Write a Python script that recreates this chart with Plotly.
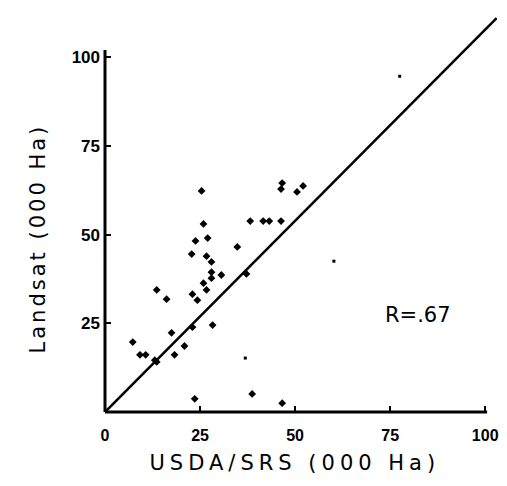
import plotly.graph_objects as go

# Survey estimates (USDA/SRS) vs Landsat estimates, thousands of hectares
usda_srs = [7.3, 9.2, 10.7, 13.6, 16.2, 13.6, 17.5, 18.3, 20.9, 23.0, 28.3, 23.6,
            23.0, 24.3, 26.7, 25.9, 28.0, 28.0, 30.6, 37.2, 28.0, 26.7, 22.8, 23.8,
            27.0, 34.8, 25.9, 25.4, 38.2, 41.6, 43.2, 46.3, 46.6, 46.3, 50.5, 52.1,
            38.7, 46.6, 13.1]
landsat = [19.7, 16.1, 16.1, 34.4, 31.8, 14.1, 22.3, 16.1, 18.6, 23.9, 24.5, 3.7,
           33.2, 31.5, 34.4, 36.3, 39.4, 37.7, 38.6, 38.9, 42.3, 43.9, 44.5, 48.2,
           49.0, 46.5, 53.0, 62.3, 53.8, 53.8, 53.8, 53.8, 64.5, 62.8, 62.0, 63.7,
           5.1, 2.5, 14.6]

# faint counties, drawn with a smaller dot
usda_srs_faint = [36.9, 60.2, 77.5]
landsat_faint = [15.2, 42.5, 94.6]

# fitted line
fit_x = [0, 103]
fit_y = [0, 111]

tick_vals_x = [0, 25, 50, 75, 100]
tick_text_x = ["0", "25", "50", "75", "100"]
tick_vals_y = [25, 50, 75, 100]
tick_text_y = ["25", "50", "75", "100"]

r_label = "R=.67"

fig = go.Figure()
fig.add_trace(go.Scatter(x=fit_x, y=fit_y, mode="lines",
                         line=dict(color="black", width=2.6), hoverinfo="skip"))
fig.add_trace(go.Scatter(x=usda_srs, y=landsat, mode="markers",
                         marker=dict(color="black", size=6, symbol="diamond")))
fig.add_trace(go.Scatter(x=usda_srs_faint, y=landsat_faint, mode="markers",
                         marker=dict(color="black", size=3, symbol="square")))

font_t = "DejaVu Sans, Arial, sans-serif"
font_k = "Liberation Sans, Arial, sans-serif"

fig.update_layout(
    width=507, height=486,
    margin=dict(l=105, r=8, t=17, b=74),
    paper_bgcolor="white", plot_bgcolor="white",
    showlegend=False,
    xaxis=dict(range=[0, 103.1], showgrid=False, zeroline=False, showline=False,
               tickmode="array", tickvals=tick_vals_x, ticktext=tick_text_x,
               ticks="inside", ticklen=6, tickwidth=2, tickcolor="black",
               ticklabelstandoff=12,
               tickfont=dict(family=font_k, size=16, color="black", weight="bold")),
    yaxis=dict(range=[0, 111.3], showgrid=False, zeroline=False, showline=False,
               tickmode="array", tickvals=tick_vals_y, ticktext=tick_text_y,
               ticks="inside", ticklen=6, tickwidth=2, tickcolor="black",
               ticklabelstandoff=4,
               tickfont=dict(family=font_k, size=17, color="black", weight="bold")),
    shapes=[
        dict(type="line", xref="x", yref="y domain", x0=0, x1=100.5, y0=0, y1=0,
             line=dict(color="black", width=3)),
        dict(type="line", xref="x domain", yref="y", x0=0, x1=0, y0=0, y1=102,
             line=dict(color="black", width=3)),
    ],
    annotations=[
        dict(text="USDA/SRS (000 Ha)", xref="x", yref="paper", x=50, y=-0.129,
             xanchor="center", yanchor="middle", showarrow=False,
             font=dict(family=font_t, size=21, color="black")),
        dict(text="Landsat (000 Ha)", xref="paper", yref="y", x=-0.170, y=49,
             xanchor="center", yanchor="middle", textangle=-90, showarrow=False,
             font=dict(family=font_t, size=21, color="black")),
        dict(text=r_label, xref="x", yref="y", x=82.2, y=27.3, showarrow=False,
             xanchor="center", yanchor="middle",
             font=dict(family=font_t, size=21, color="black")),
    ],
)

# widen the typewriter-style spacing of the axis titles
spacing_js = """
var sp = {'0': '5px', '1': '3px'};
document.querySelectorAll('g.annotation').forEach(function (g) {
  var i = g.getAttribute('data-index');
  if (sp[i]) {
    g.querySelectorAll('text').forEach(function (t) { t.style.letterSpacing = sp[i]; });
  }
});
"""

fig.write_html("out.html", post_script=spacing_js)
